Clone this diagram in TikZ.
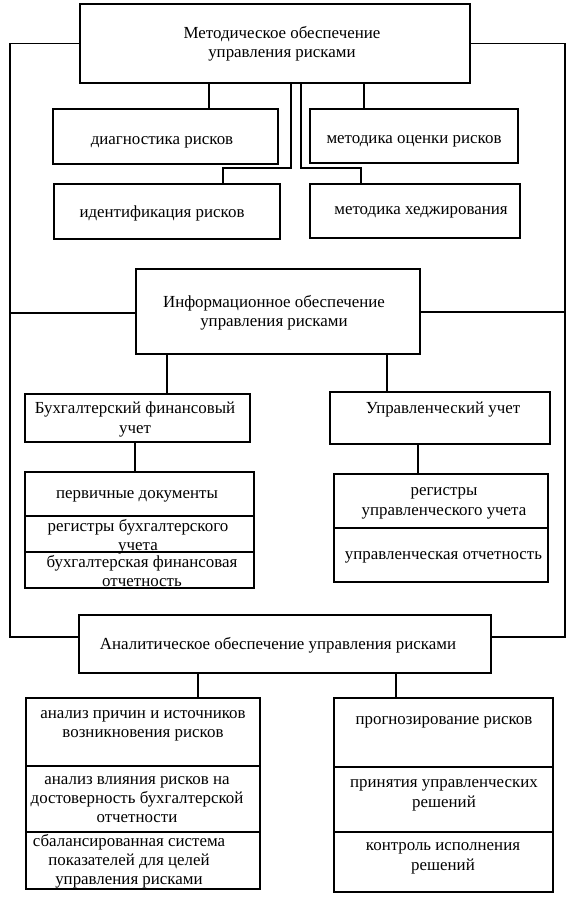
\documentclass[tikz,border=0pt]{standalone}
\usepackage{fontspec}
\setmainfont{Liberation Serif}
\begin{document}
\begin{tikzpicture}[x=1pt,y=-1pt,
  box/.style={draw, line width=1.1pt, rectangle, inner sep=0pt, outer sep=0pt},
  txt/.style={inner sep=0pt, align=center, font=\fontsize{16.9}{19.3}\selectfont,
    yshift=-2.5pt, execute at begin node=\strut, execute at end node=\strut},
  conn/.style={line width=1.1pt}]
\useasboundingbox[fill=white] (0,0) rectangle (571,913);
% boxes
\node[box, minimum width=390, minimum height=79] (top) at (275,43.5) {};
\node[box, minimum width=225, minimum height=55] (diag) at (165.5,136.5) {};
\node[box, minimum width=208, minimum height=54] (assess) at (414,136) {};
\node[box, minimum width=226, minimum height=55] (ident) at (167,211.5) {};
\node[box, minimum width=210, minimum height=54] (hedge) at (415,211) {};
\node[box, minimum width=284, minimum height=85] (info) at (278,311.5) {};
\node[box, minimum width=225, minimum height=48] (buh) at (137.5,418) {};
\node[box, minimum width=220, minimum height=52] (upr) at (440,418) {};
\node[box, minimum width=229, minimum height=44] (L1) at (139.5,494) {};
\node[box, minimum width=229, minimum height=36] (L2) at (139.5,534) {};
\node[box, minimum width=229, minimum height=36] (L3) at (139.5,570) {};
\node[box, minimum width=214, minimum height=54] (R1) at (441,501) {};
\node[box, minimum width=214, minimum height=54] (R2) at (441,555) {};
\node[box, minimum width=412, minimum height=58] (anal) at (285,644) {};
\node[box, minimum width=234, minimum height=68] (LL1) at (143,732) {};
\node[box, minimum width=234, minimum height=66] (LL2) at (143,799) {};
\node[box, minimum width=234, minimum height=57] (LL3) at (143,860.5) {};
\node[box, minimum width=219, minimum height=69] (RR1) at (443.5,732.5) {};
\node[box, minimum width=219, minimum height=65] (RR2) at (443.5,799.5) {};
\node[box, minimum width=219, minimum height=60] (RR3) at (443.5,862) {};
% texts
\node[txt] (ttop) at (282,42) {Методическое обеспечение\\управления рисками};
\node[txt] (tdiag) at (162,138) {диагностика рисков};
\node[txt] (tassess) at (414,137) {методика оценки рисков};
\node[txt] (tident) at (162,211) {идентификация рисков};
\node[txt] (thedge) at (421,208) {методика хеджирования};
\node[txt] (tinfo) at (274,311.5) {Информационное обеспечение\\управления рисками};
\node[txt] (tbuh) at (135,418) {Бухгалтерский финансовый\\учет};
\node[txt] (tupr) at (443,407) {Управленческий учет};
\node[txt] (tL1) at (137,492) {первичные документы};
\node[txt] (tL2) at (138,535) {регистры бухгалтерского\\учета};
\node[txt] (tL3) at (142,571) {бухгалтерская финансовая\\отчетность};
\node[txt] (tR1) at (444,502) {регистры\\управленческого учета};
\node[txt] (tR2) at (443.5,553) {управленческая отчетность};
\node[txt] (tanal) at (278,643) {Аналитическое обеспечение управления рисками};
\node[txt] (tLL1) at (143,724.5) {анализ причин и источников\\возникновения рисков};
\node[txt] (tLL2) at (137,800) {анализ влияния рисков на\\достоверность бухгалтерской\\отчетности};
\node[txt] (tLL3) at (129,860) {сбалансированная система\\показателей для целей\\управления рисками};
\node[txt] (tRR1) at (444,718) {прогнозирование рисков};
\node[txt] (tRR2) at (444,794) {принятия управленческих\\решений};
\node[txt] (tRR3) at (443,857) {контроль исполнения\\решений};
% connector coordinates
\coordinate (c1) at (209,0);
\coordinate (c2) at (364,0);
\coordinate (ki1) at (291,168);
\coordinate (ki2) at (223,168);
\coordinate (kh1) at (301,168);
\coordinate (kh2) at (361,168);
\coordinate (lo2) at (10,313);
\coordinate (lo3) at (10,637);
\coordinate (ro2) at (565,312);
\coordinate (ro3) at (565,637);
\coordinate (c3) at (167,0);
\coordinate (c4) at (387,0);
\coordinate (c5) at (135,0);
\coordinate (c6) at (418,0);
\coordinate (c7) at (198,0);
\coordinate (c8) at (396,0);
% connectors
\draw[conn] (top.south -| c1) -- (diag.north -| c1);
\draw[conn] (top.south -| c2) -- (assess.north -| c2);
\draw[conn] (top.south -| ki1) -- (ki1) -- (ki2) -- (ident.north -| ki2);
\draw[conn] (top.south -| kh1) -- (kh1) -- (kh2) -- (hedge.north -| kh2);
\draw[conn] (top.west) -| (lo3) -- (anal.west |- lo3);
\draw[conn] (lo2) -- (info.west |- lo2);
\draw[conn] (top.east) -| (ro3) -- (anal.east |- ro3);
\draw[conn] (ro2) -- (info.east |- ro2);
\draw[conn] (info.south -| c3) -- (buh.north -| c3);
\draw[conn] (info.south -| c4) -- (upr.north -| c4);
\draw[conn] (buh.south -| c5) -- (L1.north -| c5);
\draw[conn] (upr.south -| c6) -- (R1.north -| c6);
\draw[conn] (anal.south -| c7) -- (LL1.north -| c7);
\draw[conn] (anal.south -| c8) -- (RR1.north -| c8);
\end{tikzpicture}
\end{document}
